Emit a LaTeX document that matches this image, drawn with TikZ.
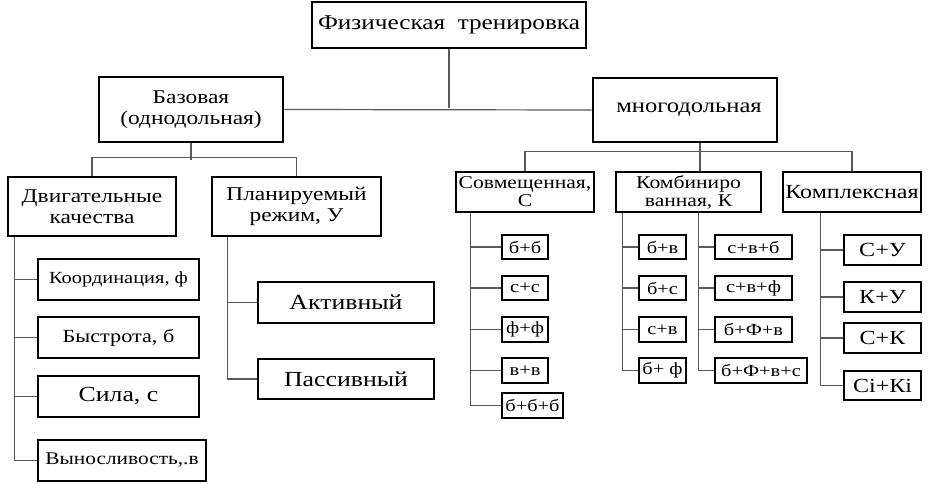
\documentclass[tikz,border=0pt]{standalone}
\usepackage{fontspec}
\setmainfont[FakeStretch=1.2]{Liberation Serif}
\newcommand\bxnode[7]{\node[box,#6,minimum width={(#4-#2)*1pt},minimum height={(#5-#3)*1pt}] (#1) at ({(#2+#4)/2},{(#3+#5)/2}) {#7};}
\tikzset{
  box/.style={draw=black, line width=2.8pt, inner sep=0pt, fill=white, align=center},
  conn/.style={draw=black!65, line width=1.2pt},
  fa/.style={font=\fontsize{21}{22}\selectfont},
  fb/.style={font=\fontsize{19.5}{21}\selectfont},
  fm/.style={font=\fontsize{20.5}{21}\selectfont},
  fc/.style={font=\fontsize{17}{18}\selectfont},
  fg/.style={font=\fontsize{18}{18}\selectfont},
  fh/.style={font=\fontsize{18.5}{20}\selectfont},
  fd/.style={font=\fontsize{21.5}{22}\selectfont},
  fe/.style={font=\fontsize{17}{18}\selectfont},
  fv/.style={font=\fontsize{17.8}{18}\selectfont},
  ff/.style={font=\fontsize{20}{21}\selectfont}
}
\begin{document}
\begin{tikzpicture}[x=1pt,y=-1pt]
\useasboundingbox (0,0) rectangle (941,483);
% level 0-1
\bxnode{top}{312}{2}{586}{48}{fa}{Физическая\ \ тренировка}
\bxnode{bas}{99}{77}{283}{142}{fb}{Базовая\\(однодольная)}
\bxnode{mnog}{593}{78}{777}{142}{fm}{\hspace{8pt}многодольная}
% level 2
\bxnode{dv}{8}{177}{176}{236}{fb}{Двигательные\\качества}
\bxnode{pl}{212}{177}{381}{236}{fb}{Планируемый\\режим, У}
\bxnode{sov}{456}{172}{594}{212}{fg}{Совмещенная,\\С}
\bxnode{komb}{616}{172}{761}{212}{fg}{Комбиниро\\ванная, К}
\bxnode{kompl}{783}{172}{921}{212}{ff}{Комплексная}
% left leaves
\bxnode{koord}{38}{259}{199}{300}{fe}{Координация, ф}
\bxnode{byst}{38}{317}{199}{358}{fh}{Быстрота, б}
\bxnode{sila}{38}{376}{199}{417}{fd}{Сила, с}
\bxnode{vyn}{38}{440}{206}{481}{fv}{Выносливость,.в}
\bxnode{akt}{258}{282}{434}{323}{fd}{Активный}
\bxnode{pass}{258}{359}{434}{399}{fd}{Пассивный}
% sov leaves
\bxnode{s1}{502}{235}{548}{259}{fc}{б+б}
\bxnode{s2}{502}{276}{548}{300}{fc}{с+с}
\bxnode{s3}{502}{317}{548}{342}{fc}{ф+ф}
\bxnode{s4}{502}{358}{548}{383}{fc}{в+в}
\bxnode{s5}{502}{393}{563}{418}{fc}{б+б+б}
% komb leaves
\bxnode{kl1}{639}{235}{686}{259}{fc}{б+в}
\bxnode{kl2}{639}{276}{686}{300}{fc}{б+с}
\bxnode{kl3}{639}{317}{686}{342}{fc}{с+в}
\bxnode{kl4}{639}{358}{686}{383}{fc}{б+ ф}
\bxnode{kr1}{715}{235}{792}{259}{fc}{с+в+б}
\bxnode{kr2}{715}{276}{792}{300}{fc}{с+в+ф}
\bxnode{kr3}{715}{317}{792}{342}{fc}{б+Ф+в}
\bxnode{kr4}{715}{358}{807}{383}{fc}{б+Ф+в+с}
% kompl leaves
\bxnode{p1}{844}{235}{921}{265}{ff}{С+У}
\bxnode{p2}{844}{282}{921}{312}{ff}{К+У}
\bxnode{p3}{844}{323}{921}{353}{ff}{С+К}
\bxnode{p4}{844}{371}{921}{400}{ff}{Сi+Кi}
% connectors
\draw[conn] (top.south) -- ++(0,59);
\draw[conn] (bas.east) -- (mnog.west);
\draw[conn] (bas.south) -- ++(0,17);
\draw[conn] (dv.north) -- ++(0,-18) -| (pl.north);
\draw[conn] ([xshift=15pt]mnog.south) -- ([xshift=11.5pt]komb.north);
\draw[conn] (sov.north) -- ++(0,-19) -| (kompl.north);
\coordinate (dvs) at ([xshift=8pt]dv.south west);
\draw[conn] (dvs) |- (vyn.west);
\foreach \n in {koord,byst,sila} \draw[conn] (dvs |- \n.west) -- (\n.west);
\coordinate (pls) at ([xshift=17pt]pl.south west);
\draw[conn] (pls) |- (pass.west);
\draw[conn] (pls |- akt.west) -- (akt.west);
\coordinate (svs) at ([xshift=16pt]sov.south west);
\draw[conn] (svs) |- (s5.west);
\foreach \n in {s1,s2,s3,s4} \draw[conn] (svs |- \n.west) -- (\n.west);
\coordinate (kbs) at ([xshift=8pt]komb.south west);
\draw[conn] (kbs) |- (kl4.west);
\foreach \n in {kl1,kl2,kl3} \draw[conn] (kbs |- \n.west) -- (\n.west);
\coordinate (kcs) at ([xshift=84pt]komb.south west);
\draw[conn] (kcs) |- (kr4.west);
\foreach \n in {kr1,kr2,kr3} \draw[conn] (kcs |- \n.west) -- (\n.west);
\coordinate (kps) at ([xshift=39pt]kompl.south west);
\draw[conn] (kps) |- (p4.west);
\foreach \n in {p1,p2,p3} \draw[conn] (kps |- \n.west) -- (\n.west);
\end{tikzpicture}
\end{document}
